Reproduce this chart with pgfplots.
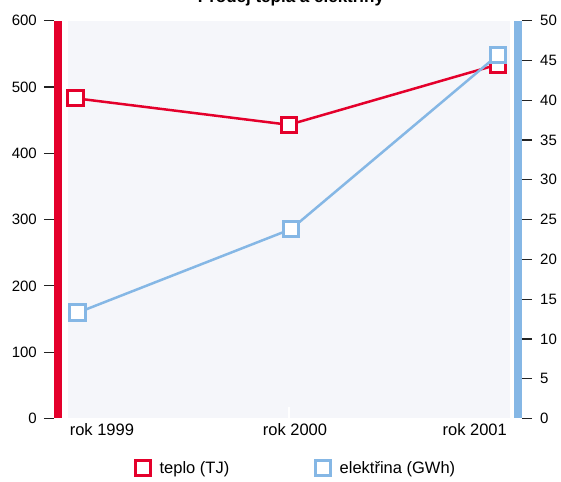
\documentclass[border=0pt]{standalone}
\usepackage{fontspec}
\setmainfont{Liberation Sans}
\usepackage{pgfplots}
\pgfplotsset{compat=1.18}
\definecolor{cred}{HTML}{E4002B}
\definecolor{cblue}{HTML}{85B7E5}
\definecolor{cbg}{HTML}{F5F6FA}
\definecolor{ctick}{HTML}{222222}

\pgfplotsset{
  common/.style={
    at={(0,0)}, anchor=south west,
    scale only axis, width=468pt, height=397.8pt,
    xmin=-0.1018, xmax=2.1136,
    axis line style={draw=none},
    xtick=\empty,
    tick align=outside, major tick length=10pt,
    tick style={draw=ctick, line width=1.2pt},
    yticklabel style={font=\fontsize{15}{18}\selectfont, inner sep=0pt},
    /pgf/number format/assume math mode=true,
    clip=false,
  },
}

\begin{document}
\begin{tikzpicture}[x=1pt,y=1pt]
% plot background and coloured axis bars
\fill[cbg] (14,0) rectangle (456,397.8);
\fill[cred] (0,0) rectangle (8,397.8);
\fill[cblue] (460,0) rectangle (468,397.8);

\begin{axis}[common,
  ymin=0, ymax=600, ytick={0,100,...,600},
  ytick pos=left,
  yticklabel style={anchor=east, xshift=-7pt},
  legend columns=2,
  legend style={at={(rel axis cs:0.1731,-0.1244)}, anchor=west,
    draw=none, fill=none, inner sep=0pt,
    font=\fontsize{16.5}{19}\selectfont,
    nodes={inner sep=0pt},
    /tikz/every odd column/.append style={column sep=9pt},
    /tikz/every even column/.append style={column sep=86pt}},
  legend image code/.code={\draw[#1, only marks] plot coordinates {(0pt,0pt)};},
]
\addplot[cred, line width=2.5pt, mark=square*, mark size=7.7pt,
  mark options={fill=white, line width=3pt, solid}]
  coordinates {(0,483) (1.01,443) (2,534)};
\addlegendentry{teplo (TJ)}
\addlegendimage{cblue, line width=2.5pt, mark=square*, mark size=7.7pt,
  mark options={fill=white, line width=3pt, solid}}
\addlegendentry{elektřina (GWh)}
\end{axis}

\begin{axis}[common,
  ymin=0, ymax=50, ytick={0,5,...,50},
  ytick pos=right,
  yticklabel style={anchor=west, xshift=8pt},
]
\addplot[cblue, line width=2.5pt, mark=square*, mark size=7.7pt,
  mark options={fill=white, line width=3pt, solid}]
  coordinates {(0.01,13.3) (1.02,23.8) (2,45.7)};
\end{axis}

% white category tick at rok 2000
\draw[white, line width=1.5pt] (235,0) -- (235,11);

% category labels
\node[anchor=base west, inner sep=0pt, font=\fontsize{16.5}{19}\selectfont] at (15.6,-16.5) {rok 1999};
\node[anchor=base, inner sep=0pt, font=\fontsize{16.5}{19}\selectfont] at (241,-16.5) {rok 2000};
\node[anchor=base east, inner sep=0pt, font=\fontsize{16.5}{19}\selectfont] at (453,-16.5) {rok 2001};

% title (cut off at the top as in the reference)
\node[anchor=base, inner sep=0pt, font=\fontsize{17}{20}\selectfont\bfseries] at (237,416) {Prodej tepla a elektřiny};

\pgfresetboundingbox
\path[use as bounding box] (-54,-62.5) rectangle (507,418.5);
\end{tikzpicture}
\end{document}
